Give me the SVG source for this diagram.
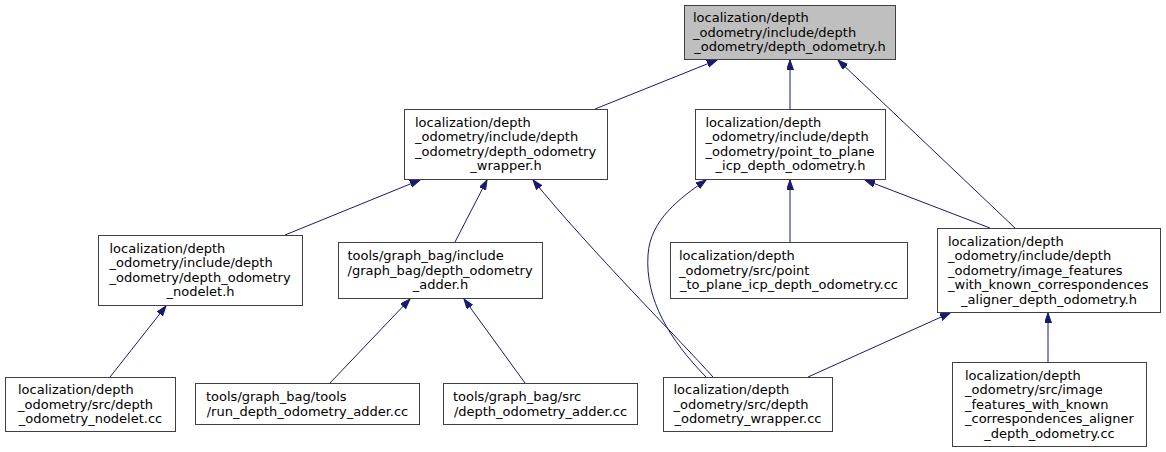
<svg xmlns="http://www.w3.org/2000/svg" width="1166" height="452" viewBox="0 0 1166 452">
<style>
.box{fill:#ffffff;stroke:#404040;stroke-width:1}
.root{fill:#bfbfbf}
text{font-family:"DejaVu Sans",sans-serif;font-size:13px;fill:#000000}
.c{text-anchor:middle}
.e{fill:none;stroke:#191970;stroke-width:1;marker-end:url(#ah)}
</style>
<defs>
<marker id="ah" markerUnits="userSpaceOnUse" markerWidth="11" markerHeight="8" refX="10" refY="3.5" orient="auto">
<path d="M0,0 L10,3.5 L0,7 z" fill="#191970" stroke="#191970" stroke-width="1"/>
</marker>
</defs>
<rect width="1166" height="452" fill="#ffffff"/>
<g id="connectors">
<path class="e" d="M595,109 L717,60"/>
<path class="e" d="M790,109 L790,60"/>
<path class="e" d="M1015,228 L838,60"/>
<path class="e" d="M285,235 L420,180"/>
<path class="e" d="M455,242 L487,180"/>
<path class="e" d="M713,377 C680,340 590,250 533,180"/>
<path class="e" d="M706,377 C670,340 645,300 648,255 C650,220 680,198 706,180"/>
<path class="e" d="M790,242 L790,180"/>
<path class="e" d="M990,228 L865,180"/>
<path class="e" d="M110,377 L166,306"/>
<path class="e" d="M330,383 L410,299"/>
<path class="e" d="M525,383 L464,299"/>
<path class="e" d="M808,377 L950,313"/>
<path class="e" d="M1048,362 L1048,313"/>
</g>
<g id="n0">
<rect class="box root" x="684.5" y="5.5" width="211" height="54"/>
<text x="693" y="22">localization/depth</text>
<text x="693" y="36.5">_odometry/include/depth</text>
<text class="c" x="790" y="51">_odometry/depth_odometry.h</text>
</g>
<g id="n1">
<rect class="box" x="404.5" y="109.5" width="203" height="70"/>
<text x="415" y="126.75">localization/depth</text>
<text x="415" y="141.25">_odometry/include/depth</text>
<text x="415" y="155.75">_odometry/depth_odometry</text>
<text class="c" x="506" y="170.25">_wrapper.h</text>
</g>
<g id="n2">
<rect class="box" x="695.5" y="109.5" width="190" height="70"/>
<text x="705.5" y="126.75">localization/depth</text>
<text x="705.5" y="141.25">_odometry/include/depth</text>
<text x="705.5" y="155.75">_odometry/point_to_plane</text>
<text class="c" x="790.5" y="170.25">_icp_depth_odometry.h</text>
</g>
<g id="n3">
<rect class="box" x="937.5" y="228.5" width="223" height="84"/>
<text x="948" y="245.5">localization/depth</text>
<text x="948" y="260">_odometry/include/depth</text>
<text x="948" y="274.5">_odometry/image_features</text>
<text x="948" y="289">_with_known_correspondences</text>
<text class="c" x="1049" y="303.5">_aligner_depth_odometry.h</text>
</g>
<g id="n4">
<rect class="box" x="98.5" y="235.5" width="204" height="70"/>
<text x="109.5" y="252.75">localization/depth</text>
<text x="109.5" y="267.25">_odometry/include/depth</text>
<text x="109.5" y="281.75">_odometry/depth_odometry</text>
<text class="c" x="200.5" y="296.25">_nodelet.h</text>
</g>
<g id="n5">
<rect class="box" x="338.5" y="242.5" width="204" height="56"/>
<text x="347.5" y="260">tools/graph_bag/include</text>
<text x="347.5" y="274.5">/graph_bag/depth_odometry</text>
<text class="c" x="440.5" y="289">_adder.h</text>
</g>
<g id="n6">
<rect class="box" x="670.5" y="242.5" width="237" height="56"/>
<text x="679" y="260">localization/depth</text>
<text x="679" y="274.5">_odometry/src/point</text>
<text class="c" x="789" y="289">_to_plane_icp_depth_odometry.cc</text>
</g>
<g id="n7">
<rect class="box" x="5.5" y="377.5" width="170" height="54"/>
<text x="18" y="394">localization/depth</text>
<text x="18" y="408.5">_odometry/src/depth</text>
<text class="c" x="90.5" y="423">_odometry_nodelet.cc</text>
</g>
<g id="n8">
<rect class="box" x="195.5" y="383.5" width="224" height="41"/>
<text x="206" y="401.25">tools/graph_bag/tools</text>
<text class="c" x="307.5" y="415.75">/run_depth_odometry_adder.cc</text>
</g>
<g id="n9">
<rect class="box" x="443.5" y="383.5" width="194" height="41"/>
<text x="453" y="401.25">tools/graph_bag/src</text>
<text class="c" x="540.5" y="415.75">/depth_odometry_adder.cc</text>
</g>
<g id="n10">
<rect class="box" x="663.5" y="377.5" width="169" height="54"/>
<text x="673.5" y="394">localization/depth</text>
<text x="673.5" y="408.5">_odometry/src/depth</text>
<text class="c" x="748" y="423">_odometry_wrapper.cc</text>
</g>
<g id="n11">
<rect class="box" x="952.5" y="362.5" width="194" height="84"/>
<text x="965" y="379.5">localization/depth</text>
<text x="965" y="394">_odometry/src/image</text>
<text x="965" y="408.5">_features_with_known</text>
<text x="965" y="423">_correspondences_aligner</text>
<text class="c" x="1049.5" y="437.5">_depth_odometry.cc</text>
</g>
</svg>
